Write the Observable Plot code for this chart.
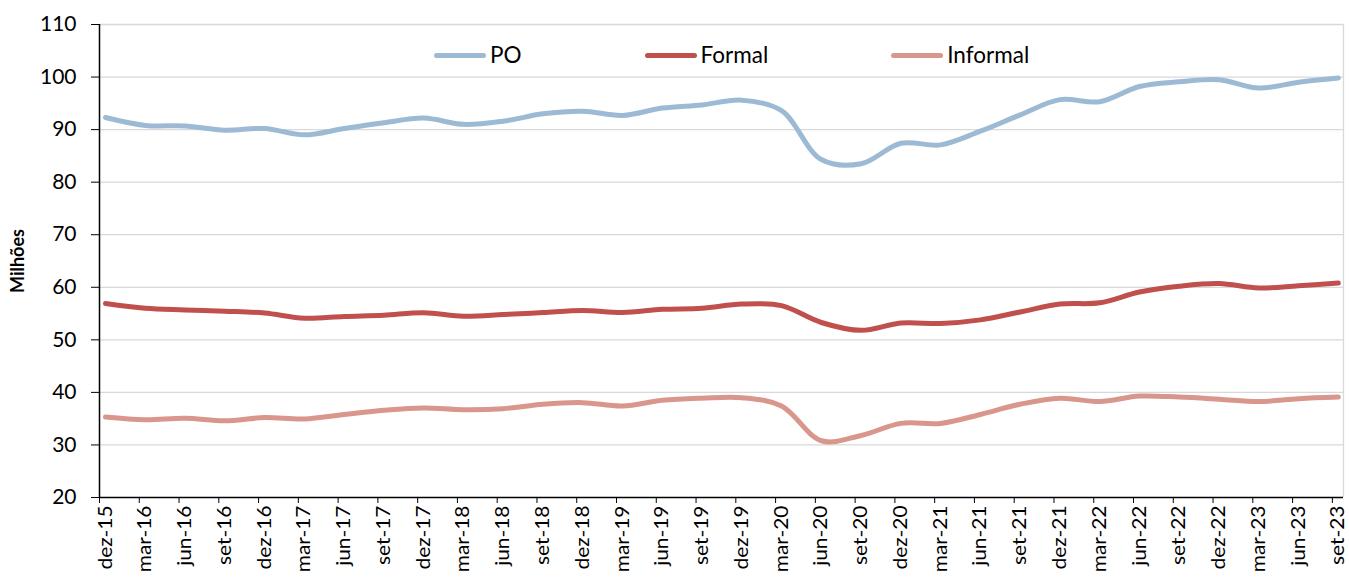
<!DOCTYPE html>
<html>
<head>
<meta charset="utf-8">
<script src="https://cdn.jsdelivr.net/npm/d3@7"></script>
<script src="https://cdn.jsdelivr.net/npm/@observablehq/plot@0.6"></script>
<style>
  html, body { margin: 0; padding: 0; background: #fff; }
  #wrap { position: relative; width: 1349px; height: 579px; font-family: Lato, "Open Sans", sans-serif; color: #000; }
  #legend { position: absolute; top: 40px; left: 434px; display: flex; gap: 123px; font-size: 22.5px; line-height: 30px; }
  .item { display: flex; align-items: center; }
  .sw { width: 52px; height: 5px; border-radius: 3px; margin-right: 4px; }
</style>
</head>
<body>
<div id="wrap"><div id="legend"></div></div>
<script>
const categories = ["dez-15","mar-16","jun-16","set-16","dez-16","mar-17","jun-17","set-17","dez-17","mar-18","jun-18","set-18","dez-18","mar-19","jun-19","set-19","dez-19","mar-20","jun-20","set-20","dez-20","mar-21","jun-21","set-21","dez-21","mar-22","jun-22","set-22","dez-22","mar-23","jun-23","set-23"];
const po = [92.3, 90.8, 90.7, 89.9, 90.2, 89.0, 90.2, 91.3, 92.2, 91.0, 91.6, 93.0, 93.5, 92.7, 94.1, 94.7, 95.6, 93.6, 84.3, 83.5, 87.4, 87.1, 89.7, 92.8, 95.7, 95.3, 98.2, 99.1, 99.5, 97.9, 99.0, 99.8];
const formal = [56.9, 56.0, 55.7, 55.45, 55.1, 54.1, 54.45, 54.7, 55.15, 54.5, 54.8, 55.2, 55.6, 55.2, 55.8, 56.0, 56.8, 56.5, 53.3, 51.8, 53.2, 53.1, 53.8, 55.3, 56.8, 57.05, 59.1, 60.2, 60.7, 59.85, 60.3, 60.8];
const informal = [35.3, 34.8, 35.1, 34.6, 35.2, 34.95, 35.8, 36.6, 37.05, 36.7, 36.9, 37.75, 38.05, 37.4, 38.5, 38.9, 39.0, 37.4, 30.8, 31.8, 34.1, 34.1, 35.8, 37.75, 38.9, 38.25, 39.3, 39.1, 38.7, 38.25, 38.8, 39.1];
const seriesNames = ["PO", "Formal", "Informal"];
const seriesColors = ["#9dbad5", "#c0504d", "#d9968c"];
const yTicks = [20, 30, 40, 50, 60, 70, 80, 90, 100, 110];
const yLabel = "Milhões";

const seriesValues = [po, formal, informal];
const rows = [];
seriesNames.forEach((s, k) => seriesValues[k].forEach((v, i) => rows.push({series: s, i, v})));
const idx = categories.map((_, i) => i);
const xMin = -0.15, xMax = categories.length - 1 + 0.13;

const chart = Plot.plot({
  width: 1349,
  height: 579,
  marginLeft: 99,
  marginRight: 6,
  marginTop: 24,
  marginBottom: 82,
  style: {fontFamily: "Lato, 'Open Sans', sans-serif", fontSize: "21px", color: "#000", background: "#fff"},
  x: {type: "linear", domain: [xMin, xMax]},
  y: {domain: [20, 110]},
  color: {domain: seriesNames, range: seriesColors},
  marks: [
    Plot.gridY(yTicks.slice(1), {stroke: "#d9d9d9", strokeOpacity: 1, strokeWidth: 1.3}),
    Plot.ruleX([xMax], {stroke: "#d9d9d9", strokeWidth: 1.3}),
    Plot.axisY(yTicks, {tickSize: 8, tickPadding: 15, label: null, fontSize: 21}),
    Plot.axisX(idx.map(i => i - 0.15), {tickSize: 6, tickFormat: () => "", label: null}),
    Plot.axisX(idx, {tickSize: 0, tickPadding: 8, tickRotate: -90, tickFormat: v => categories[Math.round(v)], label: null, fontSize: 19}),
    Plot.ruleX([xMin], {stroke: "#000", strokeWidth: 1.5}),
    Plot.ruleY([20], {stroke: "#000", strokeWidth: 1.5}),
    Plot.line(rows, {x: "i", y: "v", z: "series", stroke: "series", strokeWidth: 5, curve: "catmull-rom", strokeLinecap: "round", strokeLinejoin: "round"}),
    Plot.text([yLabel], {text: d => d, frameAnchor: "left", textAnchor: "middle", dx: -81, rotate: -90, fontWeight: "bold", fontSize: 18, fill: "#000", ariaLabel: "ylabel"})
  ]
});
// stretch rotated labels along their reading direction (as in reference)
chart.querySelectorAll('g[aria-label="x-axis tick label"] text').forEach(t => {
  const tr = t.getAttribute("transform");
  if (tr) t.setAttribute("transform", tr + " scale(1.1,1)");
});
chart.querySelectorAll('g[aria-label="ylabel"] text').forEach(t => {
  const tr = t.getAttribute("transform");
  if (tr) t.setAttribute("transform", tr + " scale(1.12,1)");
});
const wrap = document.getElementById("wrap");
wrap.insertBefore(chart, wrap.firstChild);

const legend = document.getElementById("legend");
seriesNames.forEach((s, k) => {
  const it = document.createElement("div");
  it.className = "item";
  const sw = document.createElement("span");
  sw.className = "sw";
  sw.style.background = seriesColors[k];
  const t = document.createElement("span");
  t.textContent = s;
  it.appendChild(sw); it.appendChild(t);
  legend.appendChild(it);
});
</script>
</body>
</html>
